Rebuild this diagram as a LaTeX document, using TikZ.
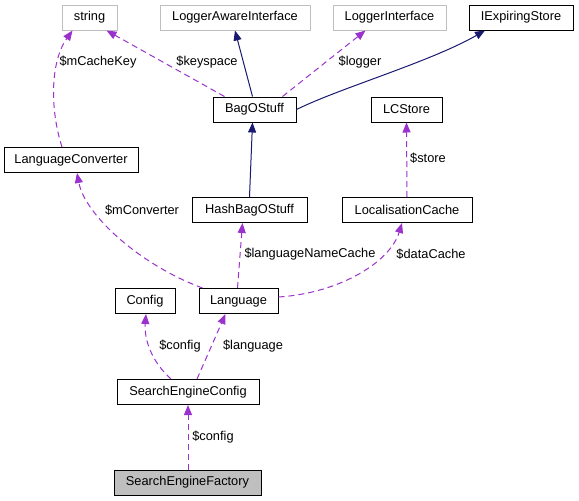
\documentclass[tikz,border=0pt]{standalone}
\usepackage{fontspec}
\setmainfont{Liberation Sans}
\usepackage{tikz}
\usetikzlibrary{arrows.meta}
\definecolor{EdgePurple}{HTML}{9A32CD}
\definecolor{EdgeNavy}{HTML}{191970}
\definecolor{BoxGray}{HTML}{BFBFBF}
\tikzset{
  % Class box: black frame
  cls/.style={
    rectangle, draw=black, line width=1pt,
    minimum width=#1, minimum height=25, inner sep=0pt,
    font=\fontsize{12.8}{14}\selectfont
  },
  % External class: gray frame
  ext/.style={cls=#1, draw=BoxGray},
  % Documented class: gray fill
  cur/.style={cls=#1, fill=BoxGray},
  % Inheritance arrow
  inh/.style={
    -{Triangle[length=10pt,width=8pt]},
    line width=1pt, color=EdgeNavy
  },
  % Usage arrow
  use/.style={
    -{Triangle[length=10pt,width=8pt]},
    line width=1pt, color=EdgePurple, dash pattern=on 6pt off 4pt
  },
  % Edge label
  lbl/.style={font=\fontsize{12.8}{14}\selectfont, inner sep=0pt}
}
\begin{document}
\begin{tikzpicture}[x=1pt, y=-1pt]
  \useasboundingbox (0,0) rectangle (579,501);

  % top row
  \node[ext=55]  (string)   at (89.5,17.5)  {string};
  \node[ext=150] (logaware) at (235,17.5)   {LoggerAwareInterface};
  \node[ext=113] (logiface) at (389.5,17.5) {LoggerInterface};
  \node[cls=104] (iexpire)  at (521,17.5)   {IExpiringStore};

  \node[cls=83]  (bag)      at (254.5,109.5) {BagOStuff};
  \node[cls=71]  (lcstore)  at (406.5,109.5) {LCStore};
  \node[cls=134] (langconv) at (71,160)      {LanguageConverter};
  \node[cls=115] (hashbag)  at (249.5,210)   {HashBagOStuff};
  \node[cls=130] (lcache)   at (407,210)     {LocalisationCache};
  \node[cls=60]  (config)   at (145,301)     {Config};
  \node[cls=79]  (language) at (238.5,301)   {Language};
  \node[cls=142] (seconfig) at (188,392)     {SearchEngineConfig};
  \node[cur=147] (sefact)   at (187.5,482.5) {SearchEngineFactory};

  % members
  \draw[use] ([xshift=-9pt]langconv.north) .. controls (50,110) and (50,62) .. ([xshift=-17pt]string.south);
  \node[lbl] (l1) at (98,62) {\$mCacheKey};
  \draw[use] ([xshift=-30pt]bag.north) -- ([xshift=17pt]string.south);
  \node[lbl] (l2) at (207,62) {\$keyspace};
  \draw[use] ([xshift=28pt]bag.north) -- ([xshift=-24pt]logiface.south);
  \node[lbl] (l3) at (360,62) {\$logger};
  \draw[use] (lcache.north) -- (lcstore.south);
  \node[lbl] (l4) at (428,158) {\$store};
  \draw[use] ([xshift=-36pt]language.north) .. controls (140,265) and (85,215) .. ([xshift=6pt]langconv.south);
  \node[lbl] (l5) at (142,210) {\$mConverter};
  \draw[use] ([xshift=-1pt]language.north) -- ([xshift=-7pt]hashbag.south);
  \node[lbl] (l6) at (310,254) {\$languageNameCache};
  \draw[use] ([yshift=4pt]language.east) .. controls (340,293) and (390,262) .. ([xshift=-5pt]lcache.south);
  \node[lbl] (l7) at (431,254) {\$dataCache};
  \draw[use] ([xshift=-17pt]seconfig.north) .. controls (152,362) and (144,340) .. ([xshift=1pt]config.south);
  \node[lbl] (l8) at (180,346) {\$config};
  \draw[use] ([xshift=9pt]seconfig.north) -- ([xshift=-13pt]language.south);
  \node[lbl] (l9) at (253,346) {\$language};
  \draw[use] ([xshift=0.5pt]sefact.north) -- (seconfig.south);
  \node[lbl] (l10) at (213,437) {\$config};

  % inheritance
  \draw[inh] ([xshift=-2pt]bag.north) -- (logaware.south);
  \draw[inh] (bag.east) .. controls (340,88) and (430,62) .. ([xshift=-36pt]iexpire.south);
  \draw[inh] (hashbag.north) -- ([xshift=-2pt]bag.south);
\end{tikzpicture}
\end{document}
